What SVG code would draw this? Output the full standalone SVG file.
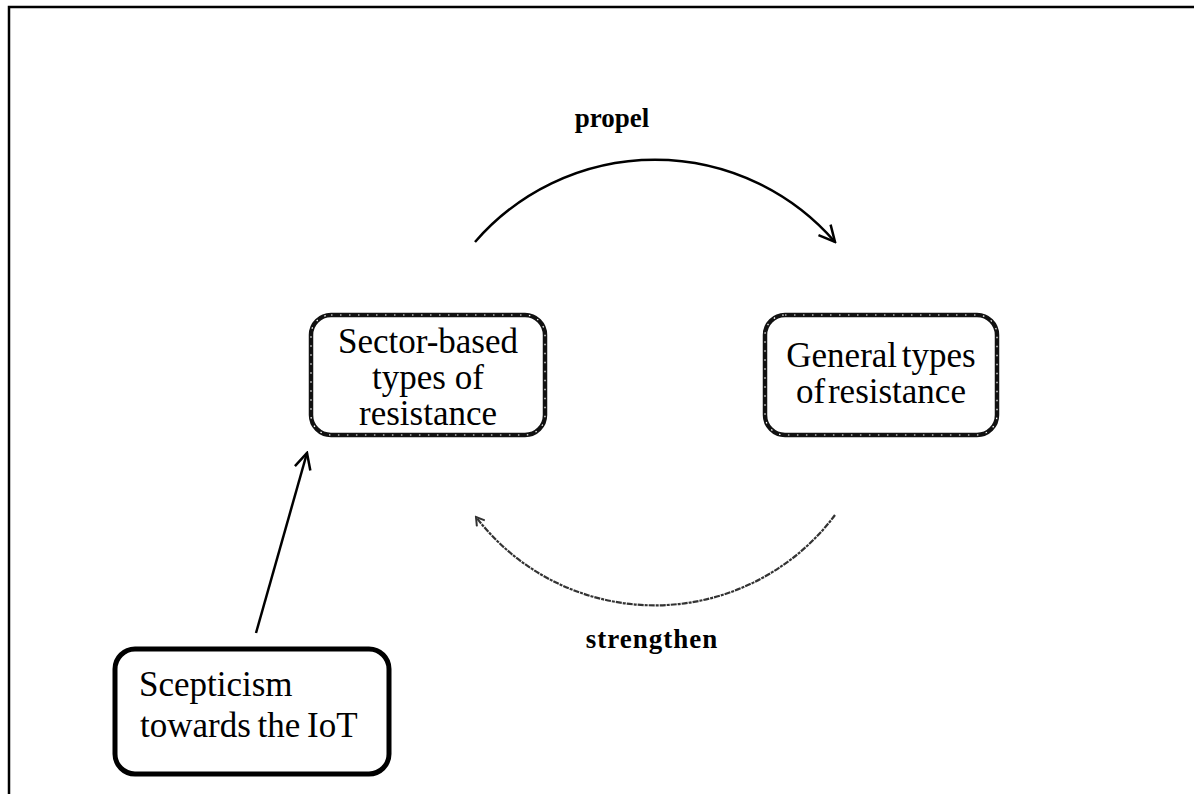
<svg xmlns="http://www.w3.org/2000/svg" width="1194" height="794" viewBox="0 0 1194 794">
<style>
.t{font-family:"Liberation Serif","Times New Roman",serif;font-size:35px;fill:#000}
.lbl{font-family:"Liberation Serif","Times New Roman",serif;font-size:27px;font-weight:bold;fill:#000}
.box{fill:#fff;stroke:#111;stroke-width:4.5}
.dots{fill:none;stroke:#fff;stroke-width:1.2;stroke-dasharray:1.5 7.5}
.conn{fill:none;stroke:#000;stroke-width:2.5}
</style>
<defs>
<marker id="open" viewBox="0 0 20 20" refX="18" refY="10" markerWidth="20" markerHeight="20" markerUnits="userSpaceOnUse" orient="auto">
<path d="M2,2 L18,10 L2,18" fill="none" stroke="#000" stroke-width="2.5"/>
</marker>
<marker id="small" viewBox="0 0 12 12" refX="10" refY="6" markerWidth="12" markerHeight="12" markerUnits="userSpaceOnUse" orient="auto">
<path d="M2,1 L10,6 L2,11" fill="none" stroke="#333" stroke-width="2"/>
</marker>
</defs>
<rect width="1194" height="794" fill="#fff"/>
<g id="frame" fill="none" stroke="#000" stroke-width="2.5">
<path d="M9,794 L9,7 L1194,7"/>
</g>
<g id="connectors">
<path class="conn" d="M475,242 A238,238 0 0 1 835,242" marker-end="url(#open)"/>
<path d="M835,515 A225,225 0 0 1 476,517" fill="none" stroke="#333" stroke-width="2.2" stroke-dasharray="6 1 3 1" marker-end="url(#small)"/>
<path class="conn" d="M256,633 L307,453" marker-end="url(#open)"/>
<text class="lbl" x="612" y="127" text-anchor="middle">propel</text>
<text class="lbl" x="652" y="648" text-anchor="middle" letter-spacing="1">strengthen</text>
</g>
<g id="sector">
<rect class="box" x="311" y="315" width="234" height="120" rx="20"/>
<rect class="dots" x="311" y="315" width="234" height="120" rx="20"/>
<text class="t" x="428" y="353" text-anchor="middle">Sector-based</text>
<text class="t" x="428" y="389" text-anchor="middle">types of</text>
<text class="t" x="428" y="425" text-anchor="middle">resistance</text>
</g>
<g id="general">
<rect class="box" x="765" y="315" width="232" height="120" rx="20"/>
<rect class="dots" x="765" y="315" width="232" height="120" rx="20"/>
<text class="t" x="881" y="367" text-anchor="middle" word-spacing="-4">General types</text>
<text class="t" x="881" y="403" text-anchor="middle" word-spacing="-6">of resistance</text>
</g>
<g id="scepticism">
<rect x="115" y="649" width="274" height="125" rx="20" fill="#fff" stroke="#000" stroke-width="5"/>
<text class="t" x="139" y="696">Scepticism</text>
<text class="t" x="140" y="737" word-spacing="-2">towards the IoT</text>
</g>
</svg>
